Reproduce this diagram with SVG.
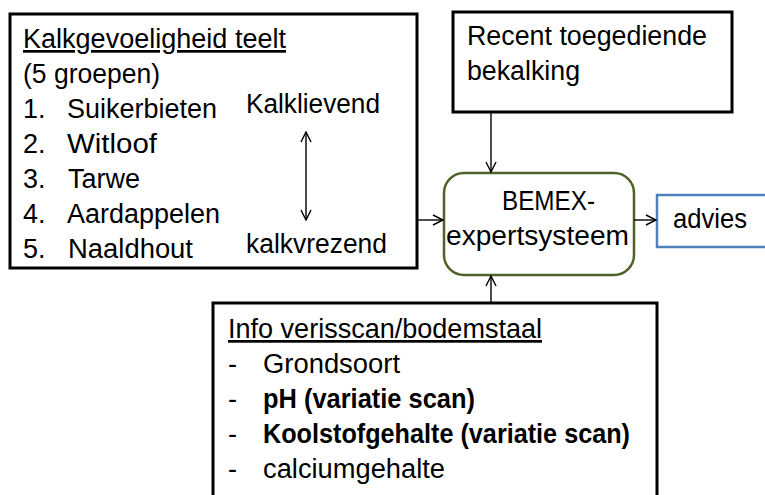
<svg xmlns="http://www.w3.org/2000/svg" width="765" height="495" viewBox="0 0 765 495">
<style>
text{font-family:"Liberation Sans",Arial,sans-serif;font-size:27px;fill:#000}
.b{font-weight:bold}
.u{text-decoration:underline}
.box{fill:#fff;stroke:#000;stroke-width:3}
.con{stroke:#000;stroke-width:1.4;fill:none}
</style>
<defs>
<marker id="ah" viewBox="0 0 12 12" refX="11" refY="6" markerWidth="12" markerHeight="12" markerUnits="userSpaceOnUse" orient="auto-start-reverse">
<path d="M1,1 L11,6 L1,11" fill="none" stroke="#000" stroke-width="1.4"/>
</marker>
</defs>
<rect width="765" height="495" fill="#fff"/>
<g id="teelt">
<rect class="box" x="10" y="14" width="407" height="254"/>
<text class="u" x="23" y="48" textLength="263" lengthAdjust="spacingAndGlyphs">Kalkgevoeligheid teelt</text>
<text x="23" y="83" textLength="137" lengthAdjust="spacingAndGlyphs">(5 groepen)</text>
<text x="23" y="118">1.</text><text x="67" y="118" textLength="150" lengthAdjust="spacingAndGlyphs">Suikerbieten</text>
<text x="23" y="153">2.</text><text x="67" y="153" textLength="90" lengthAdjust="spacingAndGlyphs">Witloof</text>
<text x="23" y="188">3.</text><text x="68" y="188" textLength="72" lengthAdjust="spacingAndGlyphs">Tarwe</text>
<text x="23" y="223">4.</text><text x="67" y="223" textLength="153" lengthAdjust="spacingAndGlyphs">Aardappelen</text>
<text x="23" y="258">5.</text><text x="68" y="258" textLength="125" lengthAdjust="spacingAndGlyphs">Naaldhout</text>
<text x="246" y="113" textLength="134" lengthAdjust="spacingAndGlyphs">Kalklievend</text>
<text x="246" y="253" textLength="141" lengthAdjust="spacingAndGlyphs">kalkvrezend</text>
<line class="con" x1="306" y1="132" x2="306" y2="220" marker-start="url(#ah)" marker-end="url(#ah)"/>
</g>
<g id="bekalking">
<rect class="box" x="453" y="12" width="279" height="100"/>
<text x="467" y="45" textLength="240" lengthAdjust="spacingAndGlyphs">Recent toegediende</text>
<text x="467" y="80" textLength="113" lengthAdjust="spacingAndGlyphs">bekalking</text>
</g>
<g id="bemex">
<rect x="444" y="173" width="190" height="102" rx="20" ry="20" fill="#fff" stroke="#4f6228" stroke-width="2.5"/>
<text x="502" y="210" textLength="93" lengthAdjust="spacingAndGlyphs">BEMEX-</text>
<text x="446" y="245" textLength="183" lengthAdjust="spacingAndGlyphs">expertsysteem</text>
</g>
<g id="advies">
<rect x="657" y="195" width="120" height="52" fill="#fff" stroke="#4f81bd" stroke-width="2.5"/>
<text x="673" y="228" textLength="74" lengthAdjust="spacingAndGlyphs">advies</text>
</g>
<g id="info">
<rect class="box" x="213" y="303" width="444" height="200"/>
<text class="u" x="228" y="338" textLength="314" lengthAdjust="spacingAndGlyphs">Info verisscan/bodemstaal</text>
<text x="228" y="373">-</text><text x="263" y="373" textLength="137" lengthAdjust="spacingAndGlyphs">Grondsoort</text>
<text x="228" y="408">-</text><text class="b" x="263" y="408" textLength="212" lengthAdjust="spacingAndGlyphs">pH (variatie scan)</text>
<text x="228" y="443">-</text><text class="b" x="263" y="443" textLength="367" lengthAdjust="spacingAndGlyphs">Koolstofgehalte (variatie scan)</text>
<text x="228" y="478">-</text><text x="263" y="478" textLength="182" lengthAdjust="spacingAndGlyphs">calciumgehalte</text>
</g>
<g id="connectors">
<line class="con" x1="491" y1="112" x2="491" y2="172" marker-end="url(#ah)"/>
<line class="con" x1="417" y1="220" x2="443" y2="220" marker-end="url(#ah)"/>
<line class="con" x1="634" y1="220" x2="656" y2="220" marker-end="url(#ah)"/>
<line class="con" x1="491" y1="302" x2="491" y2="276" marker-end="url(#ah)"/>
</g>
</svg>
